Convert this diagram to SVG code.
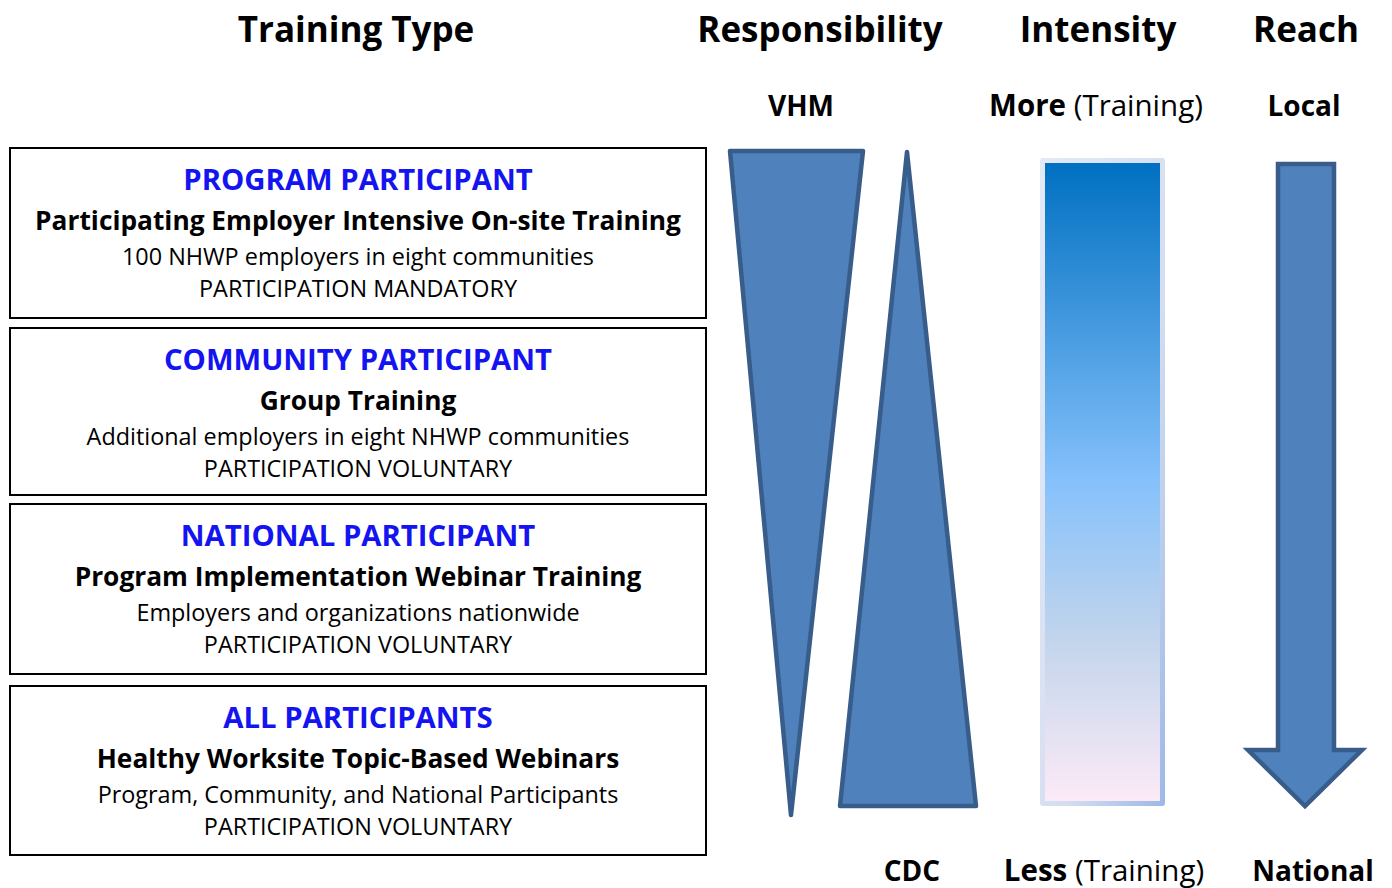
<svg xmlns="http://www.w3.org/2000/svg" width="1392" height="888" viewBox="0 0 1392 888">
<style>
text{font-family:"Open Sans",Lato,"Liberation Sans",sans-serif;text-anchor:middle;fill:#000}
.h{font-size:35px;font-weight:bold}
.s{font-size:28px;font-weight:bold}
.sm{font-size:29.5px}
.sr{font-weight:normal}
.box{fill:#fff;stroke:#000;stroke-width:2}
.t{font-size:29.3px;font-weight:bold;fill:#1414F0}
.b{font-size:26.3px;font-weight:bold}
.r{font-size:23.4px}
.shape{fill:#4F81BD;stroke:#385D8A;stroke-width:4.5;stroke-linejoin:round}
</style>
<defs>
<linearGradient id="g" x1="0" y1="0" x2="0" y2="1">
<stop offset="0" stop-color="#0070C2"/>
<stop offset="0.5" stop-color="#86C1FB"/>
<stop offset="0.75" stop-color="#C3D5EC"/>
<stop offset="1" stop-color="#FCEAF7"/>
</linearGradient>
<linearGradient id="gb" x1="0" y1="0" x2="1" y2="1">
<stop offset="0" stop-color="#E3E9F5"/>
<stop offset="0.6" stop-color="#D5DEF1"/>
<stop offset="1" stop-color="#9DB8E6"/>
</linearGradient>
</defs>
<g id="headers">
<text class="h" x="356" y="42">Training Type</text>
<text class="h" x="820" y="42">Responsibility</text>
<text class="h" x="1098" y="42">Intensity</text>
<text class="h" x="1306" y="42">Reach</text>
<text class="s" x="801" y="116">VHM</text>
<text class="s sm" x="1096" y="116">More <tspan class="sr">(Training)</tspan></text>
<text class="s" x="1304" y="116">Local</text>
<text class="s" x="912" y="881">CDC</text>
<text class="s sm" x="1104" y="881">Less <tspan class="sr">(Training)</tspan></text>
<text class="s" x="1313" y="881">National</text>
</g>
<g id="box1">
<rect class="box" x="10" y="148" width="696" height="170"/>
<text class="t" x="358" y="190">PROGRAM PARTICIPANT</text>
<text class="b" x="358" y="230">Participating Employer Intensive On-site Training</text>
<text class="r" x="358" y="265">100 NHWP employers in eight communities</text>
<text class="r" x="358" y="297">PARTICIPATION MANDATORY</text>
</g>
<g id="box2">
<rect class="box" x="10" y="328" width="696" height="167"/>
<text class="t" x="358" y="370">COMMUNITY PARTICIPANT</text>
<text class="b" x="358" y="410">Group Training</text>
<text class="r" x="358" y="445">Additional employers in eight NHWP communities</text>
<text class="r" x="358" y="477">PARTICIPATION VOLUNTARY</text>
</g>
<g id="box3">
<rect class="box" x="10" y="504" width="696" height="170"/>
<text class="t" x="358" y="546">NATIONAL PARTICIPANT</text>
<text class="b" x="358" y="586">Program Implementation Webinar Training</text>
<text class="r" x="358" y="621">Employers and organizations nationwide</text>
<text class="r" x="358" y="653">PARTICIPATION VOLUNTARY</text>
</g>
<g id="box4">
<rect class="box" x="10" y="686" width="696" height="169"/>
<text class="t" x="358" y="728">ALL PARTICIPANTS</text>
<text class="b" x="358" y="768">Healthy Worksite Topic-Based Webinars</text>
<text class="r" x="358" y="803">Program, Community, and National Participants</text>
<text class="r" x="358" y="835">PARTICIPATION VOLUNTARY</text>
</g>
<g id="vhm-triangle">
<polygon class="shape" points="730,151 863,151 791,815"/>
</g>
<g id="cdc-triangle">
<polygon class="shape" points="907,152 976,806 840,806"/>
</g>
<g id="intensity-bar">
<rect x="1040" y="158" width="125" height="648" rx="3" fill="url(#gb)"/>
<rect x="1045" y="163" width="115" height="638" fill="url(#g)"/>
</g>
<g id="reach-arrow">
<polygon class="shape" style="stroke-linejoin:miter" points="1278,164 1334,164 1334,750 1362,750 1305,806 1248,750 1278,750"/>
</g>
<g id="connectors"/>
</svg>
